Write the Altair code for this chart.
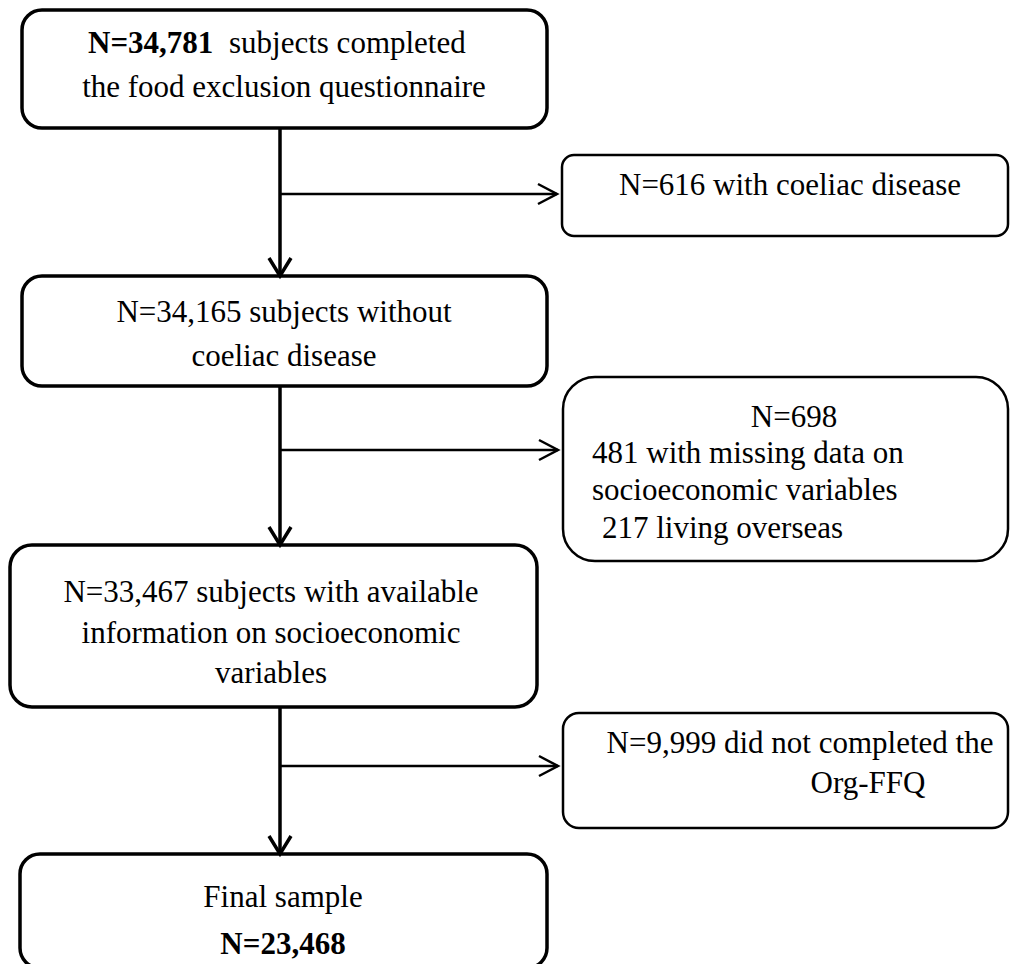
import altair as alt
import pandas as pd

# ---------------- content ----------------
box_names = ["start", "coeliac", "no_coeliac", "missing", "socio", "no_ffq", "final"]

line_text = ["N=34,781", "subjects completed", "the food exclusion questionnaire",
             "N=616 with coeliac disease",
             "N=34,165 subjects without", "coeliac disease",
             "N=698", "481 with missing data on", "socioeconomic variables", "217 living overseas",
             "N=33,467 subjects with available", "information on socioeconomic", "variables",
             "N=9,999 did not completed the", "Org-FFQ",
             "Final sample", "N=23,468"]
line_bold = [True, False, False, False, False, False, False, False, False, False,
             False, False, False, False, False, False, True]

# ---------------- layout (pixels of the 1018x972 page) ----------------
box_x1 = [22, 562, 22, 563, 10, 563, 20]
box_x2 = [547, 1008, 547, 1008, 537, 1008, 547]
box_y1 = [10, 155, 276, 377, 545, 713, 854]
box_y2 = [128, 236, 386, 561, 707, 828, 968]
box_sw = [3.5, 2.5, 3.5, 2.5, 3.5, 2.5, 3.5]
box_r = [20, 12, 20, 32, 22, 16, 20]

line_x = [88, 229, 284, 790, 284, 284, 794, 592, 592, 602, 271, 271, 271, 800, 868, 283, 283]
line_y = [53, 53, 97, 195, 322, 366, 427, 463, 500, 538, 602, 643, 683, 753, 793, 907, 954]
line_align = ["left", "left", "center", "center", "center", "center", "center", "left", "left",
              "left", "center", "center", "center", "center", "center", "center", "center"]

spine_x = 280
branch_y = [194, 450, 766]
FS = 31
FONT = "Liberation Serif, Times New Roman, serif"

W, H = 1002, 956
xs = alt.Scale(domain=[8, 8 + W], range=[0, W])
ys = alt.Scale(domain=[8, 8 + H], reverse=True)


def X(f):
    return alt.X(f, type="quantitative", scale=xs, axis=None)


def Y(f):
    return alt.Y(f, type="quantitative", scale=ys, axis=None)


layers = []

# boxes
for i, name in enumerate(box_names):
    vals = [{"bx1": box_x1[i], "bx2": box_x2[i], "by1": box_y1[i], "by2": box_y2[i]}]
    layers.append(
        alt.Chart(alt.Data(values=vals)).mark_rect(
            fill="white", stroke="black", strokeWidth=box_sw[i], cornerRadius=box_r[i]
        ).encode(x=X("bx1"), x2="bx2", y=Y("by1"), y2="by2")
    )

# arrows built from the box geometry
segs = []
sid = 0
left_boxes = [0, 2, 4, 6]
for a, b in zip(left_boxes[:-1], left_boxes[1:]):
    top = box_y2[a]
    bot = box_y1[b]
    segs += [(sid, 0, spine_x, top, "v"), (sid, 1, spine_x, bot, "v")]
    sid += 1
    segs += [(sid, 0, spine_x - 11, bot - 18, "v"), (sid, 1, spine_x, bot, "v"),
             (sid, 2, spine_x + 11, bot - 18, "v")]
    sid += 1
for k, by in enumerate(branch_y):
    tip = box_x1[[1, 3, 5][k]] - 5
    segs += [(sid, 0, spine_x, by, "h"), (sid, 1, tip, by, "h")]
    sid += 1
    segs += [(sid, 0, tip - 19, by - 10, "h"), (sid, 1, tip, by, "h"), (sid, 2, tip - 19, by + 10, "h")]
    sid += 1
for kind, sw in [("v", 3.5), ("h", 2.5)]:
    vals = [{"sid": s, "o": o, "ax": x, "ay": y} for (s, o, x, y, kd) in segs if kd == kind]
    layers.append(
        alt.Chart(alt.Data(values=vals)).mark_line(
            color="black", strokeWidth=sw, strokeJoin="miter", strokeCap="butt"
        ).encode(x=X("ax"), y=Y("ay"), detail="sid:N", order="o:Q")
    )

# text
for al in ["left", "center"]:
    for bd in [False, True]:
        vals = [{"label": line_text[i], "tx": line_x[i], "ty": line_y[i]}
                for i in range(len(line_text))
                if line_align[i] == al and line_bold[i] == bd]
        if not vals:
            continue
        layers.append(
            alt.Chart(alt.Data(values=vals)).mark_text(
                font=FONT, fontSize=FS, align=al, baseline="alphabetic",
                fill="black", fontWeight="bold" if bd else "normal"
            ).encode(x=X("tx"), y=Y("ty"), text=alt.Text("label", type="nominal"))
        )

chart = alt.layer(*layers).properties(
    width=W, height=H, padding=0, autosize=alt.AutoSizeParams(type="none"),
    background="white"
).configure_view(stroke=None)

chart.save("out.html", embed_options={"renderer": "svg", "actions": False})
